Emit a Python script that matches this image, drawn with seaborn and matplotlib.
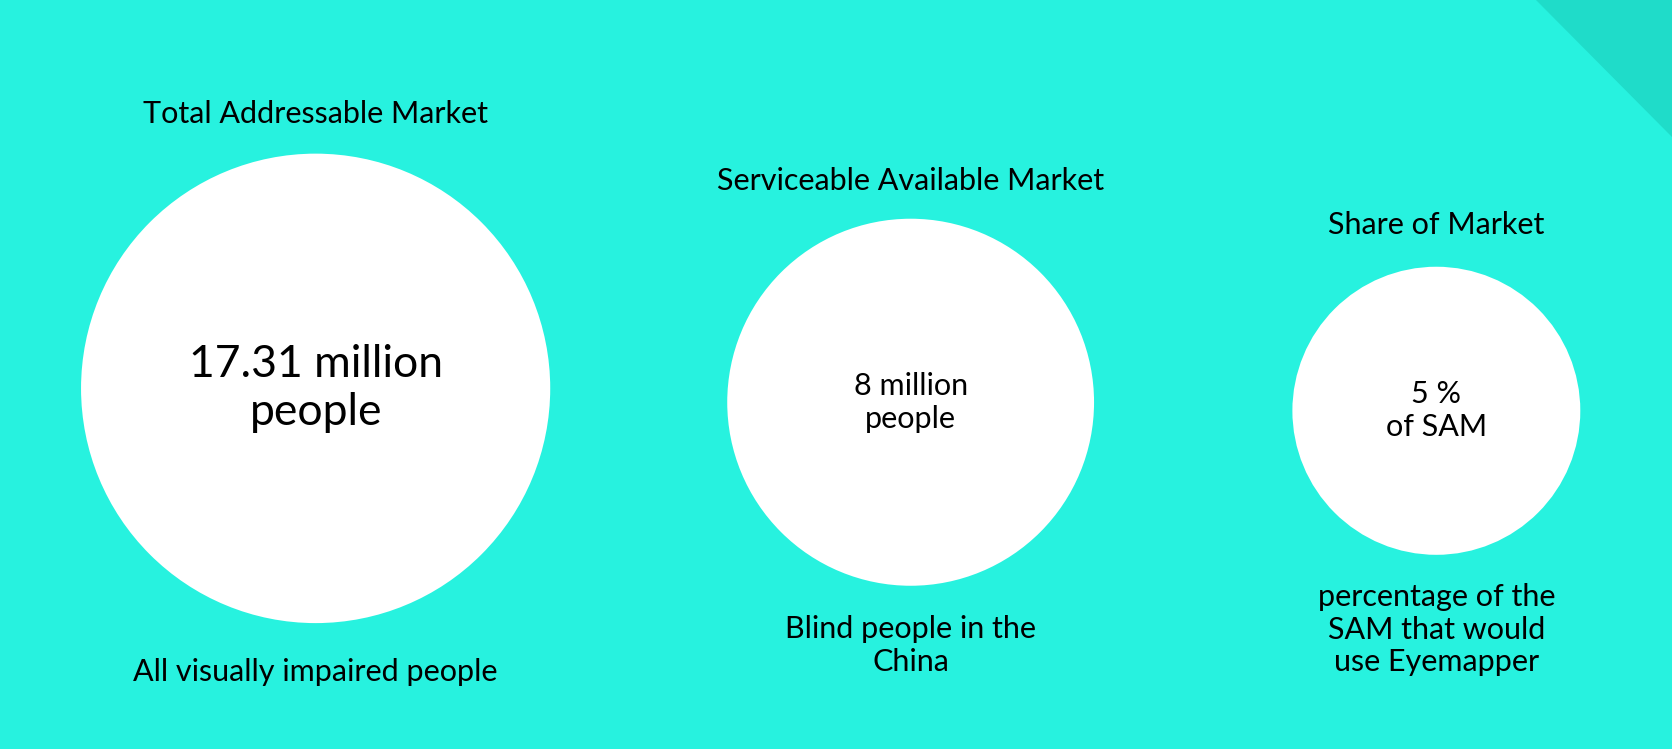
import matplotlib
matplotlib.use("Agg")
import matplotlib.pyplot as plt
import seaborn as sns
from matplotlib.patches import Circle, Polygon

sns.set_theme(style="white")
plt.rcParams['font.family'] = ['Lato', 'DejaVu Sans']

titles = ["Total Addressable Market", "Serviceable Available Market", "Share of Market"]
values = ["17.31 million\npeople", "8 million\npeople", "5 %\nof SAM"]
captions = ["All visually impaired people", "Blind people in the\nChina",
            "percentage of the\nSAM that would\nuse Eyemapper"]
radii = [220, 172, 135]
cx = [296, 854, 1347]
cy = [364, 377, 385]
title_y = [107, 170, 211]
cap_y = [630, 605, 590]
value_sizes = [32, 22, 22]

bg = "#27F2DF"
fig = plt.figure(figsize=(16.72, 7.49), dpi=100, facecolor=bg)
ax = fig.add_axes([0, 0, 1, 1])
ax.set_facecolor(bg)
ax.set_xlim(0, 1568)
ax.set_ylim(702, 0)
ax.axis("off")

ax.add_patch(Polygon([[1440, 0], [1568, 0], [1568, 128]], closed=True,
                     facecolor="#1FDCC9", edgecolor="none"))

for i in range(3):
    ax.add_patch(Circle((cx[i], cy[i]), radii[i], facecolor="white", edgecolor="none"))
    ax.text(cx[i], cy[i], values[i], ha="center", va="center", fontsize=value_sizes[i],
            color="black", linespacing=1.2)
    ax.text(cx[i], title_y[i], titles[i], ha="center", va="center", fontsize=22, color="black")
    ax.text(cx[i], cap_y[i], captions[i], ha="center", va="center", fontsize=22,
            color="black", linespacing=1.2)

fig.savefig("out.png", dpi=100, facecolor=bg)
